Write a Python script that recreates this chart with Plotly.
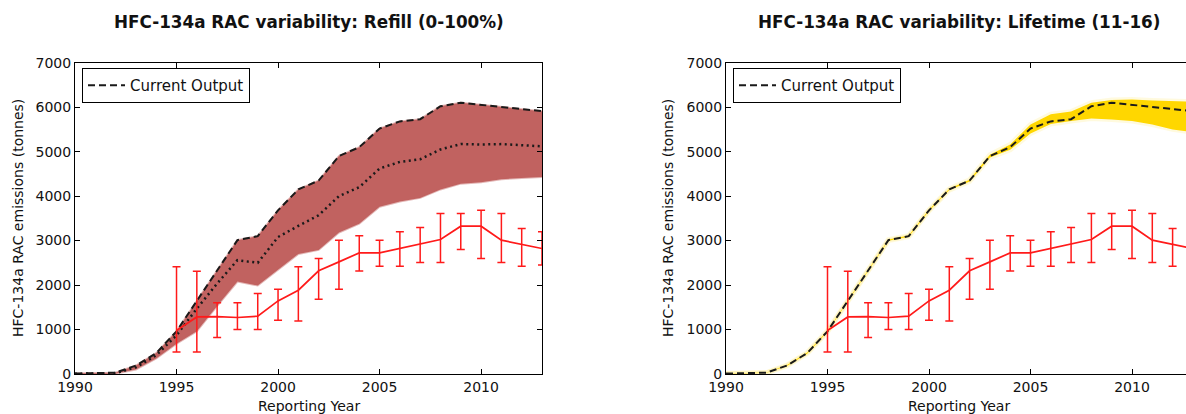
import plotly.graph_objects as go

# ---- data -----------------------------------------------------------------
years = list(range(1990, 2014))

current_output = [10, 20, 30, 190, 470, 960, 1650, 2330, 3010, 3100, 3680, 4150,
                  4350, 4900, 5100, 5520, 5680, 5730, 6020, 6100, 6050, 6010, 5960, 5910]

# refill scenario (0-100%): upper edge follows the current output
refill_mid = [5, 10, 20, 150, 420, 870, 1470, 2035, 2560, 2500, 3080, 3330,
              3570, 4000, 4200, 4620, 4770, 4830, 5050, 5170, 5160, 5170, 5150, 5120]
refill_low = [0, 5, 10, 100, 350, 680, 960, 1530, 2080, 1990, 2350, 2700,
              2790, 3180, 3380, 3760, 3880, 3960, 4150, 4280, 4310, 4380, 4410, 4430]

# lifetime scenario (11-16 years)
life_high = [12, 22, 34, 200, 482, 972, 1662, 2342, 3022, 3112, 3692, 4165,
             4370, 4930, 5160, 5610, 5840, 5900, 6100, 6160, 6170, 6150, 6135, 6120]
life_low = [8, 18, 26, 180, 458, 948, 1638, 2318, 2998, 3088, 3668, 4135,
            4330, 4870, 5040, 5410, 5620, 5690, 5745, 5725, 5690, 5610, 5500, 5440]

# reported emissions with uncertainty range
rep_years = list(range(1995, 2014))
reported = [980, 1283, 1290, 1270, 1300, 1643, 1884, 2320, 2521, 2724, 2724, 2822,
            2919, 3024, 3324, 3324, 3009, 2919, 2822]
reported_hi = [2410, 2311, 1600, 1600, 1810, 1906, 2410, 2597, 3010, 3106, 3010, 3196,
               3295, 3610, 3610, 3684, 3610, 3272, 3200]
reported_lo = [495, 495, 820, 1000, 1000, 1209, 1193, 1681, 1906, 2318, 2424, 2424,
               2507, 2507, 2800, 2597, 2507, 2424, 2450]

x_ticks = [1990, 1995, 2000, 2005, 2010]
y_ticks = [0, 1000, 2000, 3000, 4000, 5000, 6000, 7000]

# ---- styling --------------------------------------------------------------
W, H = 1186, 414
FONT = "DejaVu Sans"
RED_BAND = "#C16260"
GOLD = "#FFD700"

err_plus = [h - v for h, v in zip(reported_hi, reported)]
err_minus = [v - l for v, l in zip(reported, reported_lo)]

fig = go.Figure()


def add_panel(xa, ya, legend_name, band_low, band_high, band_color, edge_color,
              edge_width, mid=None):
    fig.add_trace(go.Scatter(x=years, y=band_low, mode="lines",
                             line=dict(color=edge_color, width=edge_width),
                             showlegend=False, hoverinfo="skip",
                             xaxis=xa, yaxis=ya))
    fig.add_trace(go.Scatter(x=years, y=band_high, mode="lines", fill="tonexty",
                             fillcolor=band_color,
                             line=dict(color=edge_color, width=edge_width),
                             showlegend=False, hoverinfo="skip",
                             xaxis=xa, yaxis=ya))
    if mid is not None:
        fig.add_trace(go.Scatter(x=years, y=mid, mode="lines",
                                 line=dict(color="#1a1a1a", width=2.5, dash="2px,3.5px"),
                                 showlegend=False, xaxis=xa, yaxis=ya))
    fig.add_trace(go.Scatter(x=years, y=current_output, mode="lines",
                             name="Current Output",
                             line=dict(color="#1a1a1a", width=2, dash="7px,4px"),
                             legend=legend_name, xaxis=xa, yaxis=ya))
    fig.add_trace(go.Scatter(x=rep_years, y=reported, mode="lines",
                             line=dict(color="#FF1A1A", width=1.7),
                             error_y=dict(type="data", symmetric=False,
                                          array=err_plus, arrayminus=err_minus,
                                          color="#FF1A1A", thickness=1.5, width=4),
                             showlegend=False, xaxis=xa, yaxis=ya))


add_panel("x", "y", "legend", refill_low, current_output, RED_BAND,
          "rgba(193,98,96,0.45)", 2, mid=refill_mid)
add_panel("x2", "y2", "legend2", life_low, life_high, GOLD,
          "rgba(255,215,0,0.13)", 5)

y_dom = [1 - 374 / H, 1 - 62.7 / H]
tick_font = dict(family=FONT, size=14, color="#111")

common_x = dict(tickvals=x_ticks, ticks="inside", ticklen=5, tickwidth=1,
                tickcolor="black", showline=True, linecolor="black", linewidth=1,
                mirror="ticks", showgrid=False, zeroline=False, tickfont=tick_font,
                automargin=False)
common_y = dict(range=[0, 7000], tickvals=y_ticks, ticks="inside", ticklen=5,
                tickwidth=1, tickcolor="black", showline=True, linecolor="black",
                linewidth=1, showgrid=False, zeroline=False, tickfont=tick_font,
                domain=y_dom, automargin=False)

legend_common = dict(bgcolor="white", bordercolor="black", borderwidth=1,
                     font=dict(family=FONT, size=15, color="#111"),
                     xanchor="left", yanchor="top", tracegroupgap=0,
                     itemwidth=37)

fig.update_layout(
    template="none",
    width=W, height=H,
    margin=dict(l=0, r=0, t=0, b=0, autoexpand=False),
    paper_bgcolor="white", plot_bgcolor="white",
    font=dict(family=FONT),
    xaxis=dict(domain=[75 / W, 542 / W], range=[1990, 2013], **common_x),
    yaxis=dict(anchor="x", mirror="ticks", **common_y),
    xaxis2=dict(domain=[726 / W, 1.0], range=[1990, 1990 + 460 / 20.3],
                anchor="y2", **common_x),
    yaxis2=dict(anchor="x2", mirror=False, **common_y),
    legend=dict(x=82 / W, y=1 - 68 / H, **legend_common),
    legend2=dict(x=733 / W, y=1 - 68 / H, **legend_common),
    showlegend=True,
)

titles = [
    (308.5, "HFC-134a RAC variability: Refill (0-100%)"),
    (958.5, "HFC-134a RAC variability: Lifetime (11-16)"),
]
for cx, text in titles:
    fig.add_annotation(x=cx / W, y=1 - 22 / H, xref="paper", yref="paper",
                       text=f"<b>{text}</b>", showarrow=False,
                       font=dict(family=FONT, size=16.8, color="#111"),
                       xanchor="center", yanchor="middle")

for cx in (308.5, 958.5):
    fig.add_annotation(x=cx / W, y=1 - 406 / H, xref="paper", yref="paper",
                       text="Reporting Year", showarrow=False,
                       font=dict(family=FONT, size=14, color="#111"),
                       xanchor="center", yanchor="middle")

for cx in (18, 668):
    fig.add_annotation(x=cx / W, y=1 - 218 / H, xref="paper", yref="paper",
                       text="HFC-134a RAC emissions (tonnes)", showarrow=False,
                       textangle=-90,
                       font=dict(family=FONT, size=14, color="#111"),
                       xanchor="center", yanchor="middle")

fig.write_html("out.html")
